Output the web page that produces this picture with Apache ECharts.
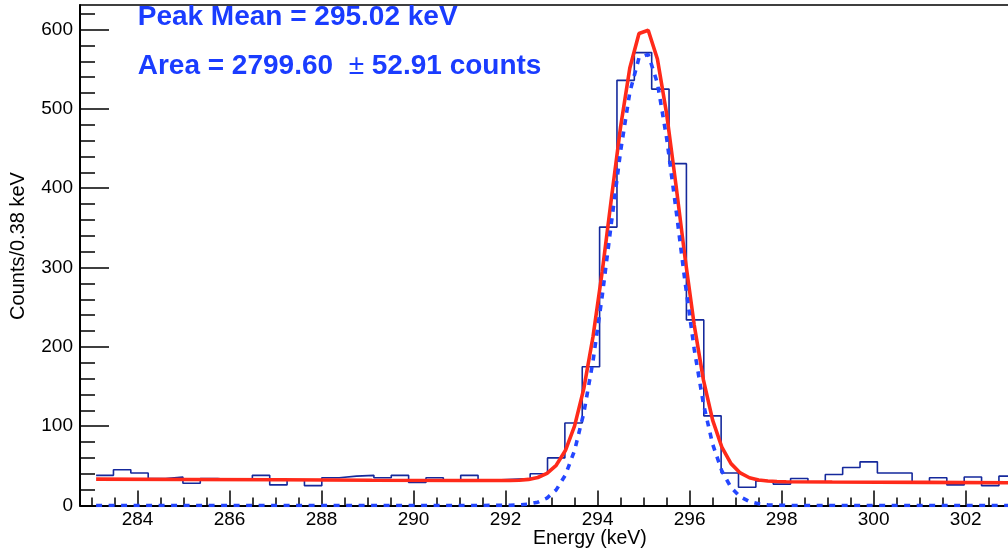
<!DOCTYPE html>
<html>
<head>
<meta charset="utf-8">
<script src="https://cdn.jsdelivr.net/npm/echarts@6/dist/echarts.min.js"></script>
<style>
html,body{margin:0;padding:0;background:#fff;}
#chart{width:1008px;height:554px;}
</style>
</head>
<body>
<div id="chart"></div>
<script>
// ---- data ----
const histStart = 283.1;      // keV, low edge of first bin
const binWidth = 0.37736;     // keV per bin ("Counts/0.38 keV")
const counts = [38, 45, 41, 34, 36, 28, 34, 32, 32, 38,
                26, 32, 25, 35, 37, 38, 35, 38, 29, 35,
                32, 38, 32, 33, 34, 40, 60, 104, 175, 351,
                536, 571, 525, 431, 234, 113, 41, 23, 31, 27,
                34, 30, 39, 48, 55, 41, 41, 29, 35, 26,
                36, 25, 37];
const curveE = [283.1, 285.1, 287.1, 289.1, 291.1, 292.1, 292.3, 292.5, 292.7, 292.9,
                293.1, 293.3, 293.5, 293.7, 293.9, 294.1, 294.3, 294.5, 294.7, 294.9,
                295.1, 295.3, 295.5, 295.7, 295.9, 296.1, 296.3, 296.5, 296.7, 296.9,
                297.1, 297.3, 297.5, 297.7, 297.9, 298.1, 299.1, 301.1, 303.1];
const fitTotal = [33.3, 32.8, 32.4, 31.9, 31.5, 31.5, 31.9, 32.9, 35.3, 40.4,
                  50.7, 69.3, 100.3, 147.4, 212.8, 294.8, 387.0, 477.5, 551.5, 595.1,
                  599.2, 563.0, 493.9, 405.5, 312.5, 227.5, 158.4, 107.6, 73.7, 52.8,
                  41.1, 35.0, 32.1, 30.8, 30.2, 30.0, 29.6, 29.2, 28.7];
const fitPeak = [0, 0, 0, 0, 0, 0.2, 0.7, 1.7, 4.2, 9.4,
                 19.7, 38.4, 69.4, 116.6, 182.0, 264.1, 356.3, 446.8, 520.9, 564.5,
                 568.7, 532.5, 463.5, 375.1, 282.1, 197.2, 128.1, 77.4, 43.5, 22.7,
                 11.0, 5.0, 2.1, 0.8, 0.3, 0.1, 0, 0, 0];
const xMajorTicks = [284, 286, 288, 290, 292, 294, 296, 298, 300, 302];
const xMinorTicks = [283, 283.5, 284, 284.5, 285, 285.5, 286, 286.5, 287, 287.5, 288, 288.5,
                     289, 289.5, 290, 290.5, 291, 291.5, 292, 292.5, 293, 293.5, 294, 294.5,
                     295, 295.5, 296, 296.5, 297, 297.5, 298, 298.5, 299, 299.5, 300, 300.5,
                     301, 301.5, 302, 302.5];
const yMajorTicks = [0, 100, 200, 300, 400, 500, 600];
const yMinorTicks = [0, 20, 40, 60, 80, 100, 120, 140, 160, 180, 200, 220, 240, 260, 280, 300,
                     320, 340, 360, 380, 400, 420, 440, 460, 480, 500, 520, 540, 560, 580, 600, 620];
const xTitle = 'Energy (keV)';
const yTitle = 'Counts/0.38 keV';
const peakText = 'Peak Mean = 295.02 keV';
const areaValue = '2799.60', areaError = '52.91';

// ---- build series data ----
const histData = counts.map((c, i) => [histStart + i * binWidth, c]);
histData.push([histStart + counts.length * binWidth, counts[counts.length - 1]]);
const totalData = curveE.map((e, i) => [e, fitTotal[i]]);
const peakData = curveE.map((e, i) => [e, fitPeak[i]]);

const FONT = '"Liberation Sans", Arial, Helvetica, sans-serif';
const X_MIN = 282.75, X_MAX = 302.92, Y_MIN = 0, Y_MAX = 631;

const chart = echarts.init(document.getElementById('chart'), null, {renderer: 'canvas'});
chart.setOption({
  animation: false,
  backgroundColor: '#ffffff',
  grid: {left: 80, top: 5, right: 0, bottom: 48.5, show: false},
  xAxis: [
    {type: 'value', min: X_MIN, max: X_MAX, position: 'bottom',
     axisLine: {show: true, onZero: false, lineStyle: {color: '#000', width: 2}},
     axisTick: {show: true, inside: true, length: 15, customValues: xMajorTicks,
                lineStyle: {color: '#000', width: 1.5}},
     axisLabel: {show: true, customValues: xMajorTicks, color: '#000', fontSize: 19,
                 fontFamily: FONT, margin: 5},
     splitLine: {show: false}},
    {type: 'value', min: X_MIN, max: X_MAX, position: 'bottom',
     axisLine: {show: false, onZero: false},
     axisTick: {show: true, inside: true, length: 8, customValues: xMinorTicks,
                lineStyle: {color: '#000', width: 1.5}},
     axisLabel: {show: false},
     splitLine: {show: false}},
    {type: 'value', min: X_MIN, max: X_MAX, position: 'top',
     axisLine: {show: true, onZero: false, lineStyle: {color: '#000', width: 1.5}},
     axisTick: {show: false}, axisLabel: {show: false}, splitLine: {show: false}}
  ],
  yAxis: [
    {type: 'value', min: Y_MIN, max: Y_MAX, position: 'left',
     axisLine: {show: true, onZero: false, lineStyle: {color: '#000', width: 2}},
     axisTick: {show: true, inside: true, length: 29, customValues: yMajorTicks,
                lineStyle: {color: '#000', width: 1.5}},
     axisLabel: {show: true, customValues: yMajorTicks, color: '#000', fontSize: 19,
                 fontFamily: FONT, margin: 7},
     splitLine: {show: false}},
    {type: 'value', min: Y_MIN, max: Y_MAX, position: 'left',
     axisLine: {show: false, onZero: false},
     axisTick: {show: true, inside: true, length: 15, customValues: yMinorTicks,
                lineStyle: {color: '#000', width: 1.5}},
     axisLabel: {show: false},
     splitLine: {show: false}}
  ],
  series: [
    {name: 'hist', type: 'line', step: 'end', data: histData, symbol: 'none',
     xAxisIndex: 0, yAxisIndex: 0,
     lineStyle: {color: '#15299c', width: 1.6}, z: 2},
    {name: 'fit', type: 'line', data: totalData, symbol: 'none', smooth: false,
     xAxisIndex: 0, yAxisIndex: 0,
     lineStyle: {color: '#ff2a1a', width: 3.6}, z: 3},
    {name: 'peak', type: 'line', data: peakData, symbol: 'none', smooth: false,
     xAxisIndex: 0, yAxisIndex: 0,
     lineStyle: {color: '#2446ff', width: 3.6, type: [6, 6.5]}, z: 4}
  ],
  graphic: [
    {type: 'text', x: 137.7, y: 17, z: 10,
     style: {text: peakText, font: 'bold 28px ' + FONT, fill: '#1a3cff',
             textAlign: 'left', textVerticalAlign: 'middle', align: 'left', verticalAlign: 'middle'}},
    {type: 'text', x: 137.7, y: 66, z: 10,
     style: {text: '{b|Area = ' + areaValue + '  }{n|\u00b1}{b| ' + areaError + ' counts}',
             fill: '#1a3cff', textAlign: 'left', textVerticalAlign: 'middle',
             align: 'left', verticalAlign: 'middle',
             rich: {b: {font: 'bold 28px ' + FONT, fill: '#1a3cff'},
                    n: {font: '28px ' + FONT, fill: '#1a3cff'}}}},
    {type: 'text', x: 533, y: 538.5, z: 10,
     style: {text: xTitle, font: '19.5px ' + FONT, fill: '#000',
             textAlign: 'left', textVerticalAlign: 'middle', align: 'left', verticalAlign: 'middle'}},
    {type: 'text', x: 18, y: 246, rotation: Math.PI / 2, z: 10,
     style: {text: yTitle, font: '20px ' + FONT, fill: '#000',
             textAlign: 'center', textVerticalAlign: 'middle', align: 'center', verticalAlign: 'middle'}}
  ]
});
</script>
</body>
</html>
